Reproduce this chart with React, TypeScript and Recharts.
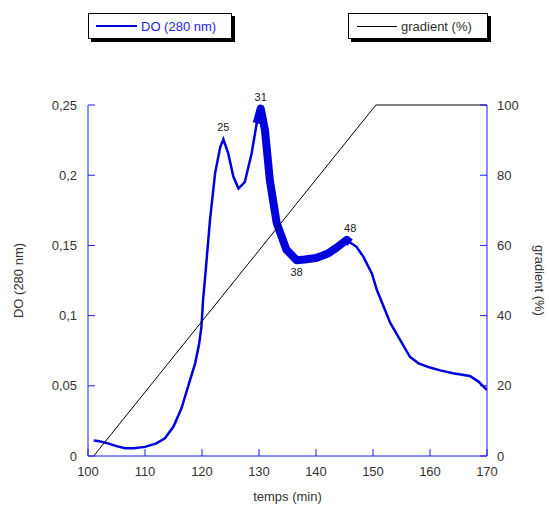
import React from "react";
import { LineChart, Line, XAxis, YAxis, Legend, ReferenceDot } from "recharts";

// absorbance trace (DO at 280 nm)
const doTime = [
  101, 102, 103.5, 105, 106.5, 108, 110, 112, 113.5, 115, 116.4, 117.9, 118.8, 119.5, 119.9, 120.2, 120.5,
  121.4, 122.3, 123.2, 123.75, 124.6, 125.5, 126.4, 127.5, 128.7, 129.6, 130.3, 131.05, 131.9, 133.1, 134.8,
  136.6, 138, 140, 142, 143.5, 145.4, 146, 147.1, 148.3, 149.8, 150.7, 152, 153, 154.7, 156.5, 158, 160,
  161.8, 164, 167, 168.5, 170
];
const doValue = [
  0.011, 0.0105, 0.009, 0.007, 0.0055, 0.0055, 0.0065, 0.009, 0.0126, 0.021, 0.034, 0.054, 0.066, 0.08,
  0.092, 0.112, 0.125, 0.168, 0.2015, 0.22, 0.2255, 0.2155, 0.199, 0.1905, 0.195, 0.2155, 0.237, 0.2475,
  0.232, 0.1965, 0.166, 0.147, 0.1395, 0.14, 0.141, 0.144, 0.148, 0.154, 0.152, 0.149, 0.142, 0.13, 0.118,
  0.105, 0.095, 0.083, 0.0705, 0.066, 0.063, 0.061, 0.059, 0.057, 0.053, 0.047
];

// gradient program (%)
const gradTime = [101, 150.5, 170];
const gradValue = [0, 100, 100];

// fraction numbers written over the peaks
const peakTime = [123.75, 130.3, 136.6, 146];
const peakValue = [0.2255, 0.2475, 0.1395, 0.154];
const peakLabel = ["25", "31", "38", "48"];
const peakSide = ["top", "top", "bottom", "top"];

const xTicks = [100, 110, 120, 130, 140, 150, 160, 170];
const doTicks = [0, 0.05, 0.1, 0.15, 0.2, 0.25];
const gradTicks = [0, 20, 40, 60, 80, 100];

const doData = doTime.map((t, i) => ({ t, v: doValue[i] }));
// the noisy stretch between the 31 peak and 48 shows up as a thick band
const bandData = doData.filter((d) => d.t >= 129.6 && d.t <= 146);
const gradData = gradTime.map((t, i) => ({ t, g: gradValue[i] }));

const AXIS = "#1a1aff";
const LINE = "#0000dd";
const FONT = "'Liberation Sans', Arial, sans-serif";
const tick = { fill: "#333", fontSize: 13, fontFamily: FONT };

function LegendBoxes() {
  const box: React.CSSProperties = {
    position: "absolute",
    top: 13,
    height: 24,
    border: "1px solid #000",
    background: "#fff",
    boxShadow: "3px 3px 0 #000",
    fontFamily: FONT,
    fontSize: 13,
    display: "flex",
    alignItems: "center"
  };
  return (
    <div style={{ position: "relative", width: 549, height: 50 }}>
      <div style={{ ...box, left: 88, width: 142 }}>
        <span style={{ display: "inline-block", width: 41, height: 2, background: LINE, marginLeft: 7 }} />
        <span style={{ color: "#2323e6", marginLeft: 4 }}>DO (280 nm)</span>
      </div>
      <div style={{ ...box, left: 348, width: 138 }}>
        <span style={{ display: "inline-block", width: 40, height: 1, background: "#000", marginLeft: 8 }} />
        <span style={{ color: "#333", marginLeft: 4 }}>gradient (%)</span>
      </div>
    </div>
  );
}

export default function App() {
  return (
    <div style={{ position: "absolute", left: 0, top: 0, background: "#fff" }}>
      <LineChart width={549} height={506} margin={{ top: 105, right: 0, bottom: 0, left: 0 }} style={{ fontFamily: FONT }}>
        <XAxis
          type="number"
          dataKey="t"
          domain={[100, 170]}
          ticks={xTicks}
          allowDataOverflow
          height={50}
          stroke={AXIS}
          tickSize={-7}
          tickMargin={18}
          tick={tick}
          label={{ value: "temps (min)", position: "insideBottom", offset: 5, fill: "#333", fontSize: 13 }}
        />
        <YAxis
          yAxisId="do"
          type="number"
          domain={[0, 0.25]}
          ticks={doTicks}
          width={88}
          stroke={AXIS}
          tickSize={-7}
          tickMargin={18}
          tick={tick}
          tickFormatter={(v: number) => String(v).replace(".", ",")}
          label={{ value: "DO (280 nm)", angle: -90, position: "center", dx: -26, fill: "#333", fontSize: 13 }}
        />
        <YAxis
          yAxisId="grad"
          orientation="right"
          type="number"
          domain={[0, 100]}
          ticks={gradTicks}
          width={62}
          stroke={AXIS}
          tickSize={-7}
          tickMargin={17}
          tick={tick}
          label={{ value: "gradient (%)", angle: 90, position: "center", dx: 22, fill: "#333", fontSize: 13 }}
        />
        <Legend
          verticalAlign="middle"
          layout="horizontal"
          wrapperStyle={{ top: 0, left: 0, width: 549, height: 50 }}
          content={() => <LegendBoxes />}
        />
        <Line
          yAxisId="do"
          data={bandData}
          dataKey="v"
          type="linear"
          stroke={LINE}
          strokeWidth={8}
          strokeLinejoin="round"
          dot={false}
          legendType="none"
          isAnimationActive={false}
        />
        <Line
          yAxisId="do"
          data={doData}
          dataKey="v"
          name="DO (280 nm)"
          type="linear"
          stroke={LINE}
          strokeWidth={2.5}
          dot={false}
          isAnimationActive={false}
        />
        <Line
          yAxisId="grad"
          data={gradData}
          dataKey="g"
          name="gradient (%)"
          type="linear"
          stroke="#000"
          strokeWidth={1}
          dot={false}
          isAnimationActive={false}
        />
        {peakTime.map((t, i) => (
          <ReferenceDot
            key={peakLabel[i]}
            yAxisId="do"
            x={t}
            y={peakValue[i]}
            r={0}
            fill="none"
            stroke="none"
            label={{ value: peakLabel[i], position: peakSide[i] as "top" | "bottom", offset: 8, fill: "#222", fontSize: 11 }}
          />
        ))}
      </LineChart>
    </div>
  );
}
